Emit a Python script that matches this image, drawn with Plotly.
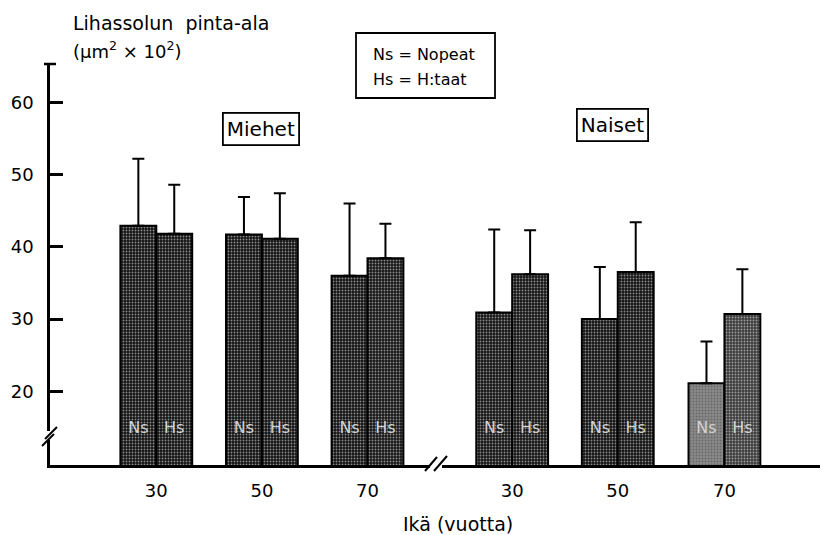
import plotly.graph_objects as go

# Muscle fibre cross-sectional area (um^2 x 10^2) by age group, men and women
age_labels = ["30", "50", "70", "30", "50", "70"]
group_pos = [0, 1, 2, 3.37, 4.37, 5.38]

ns_mean = [42.9, 41.7, 36.0, 30.9, 30.0, 21.1]   # Ns = fast fibres
ns_sd = [9.3, 5.2, 10.0, 11.5, 7.2, 5.8]
hs_mean = [41.8, 41.1, 38.4, 36.2, 36.5, 30.7]   # Hs = slow fibres
hs_sd = [6.8, 6.3, 4.8, 6.1, 6.9, 6.2]

ns_fill = ["#141414", "#141414", "#141414", "#161616", "#141414", "#8a8a8a"]
hs_fill = ["#141414", "#141414", "#181818", "#161616", "#141414", "#3c3c3c"]
ns_dots = ["#5a5a5a"] * 5 + ["#d8d8d8"]
hs_dots = ["#5a5a5a"] * 5 + ["#9a9a9a"]

Y_MIN, Y_MAX = 9.8, 65.3
BAR_W = 0.34
FONT = "DejaVu Sans"

# plot-area geometry (pixels) used to place decorations in paper coordinates
L, R, T, B = 50, 820, 64, 465
def fx(px):
    return (px - L) / (R - L)
def fy(py):
    return (B - py) / (B - T)

fig = go.Figure()

for mean, sd, fill, dots, off in [
    (ns_mean, ns_sd, ns_fill, ns_dots, -BAR_W),
    (hs_mean, hs_sd, hs_fill, hs_dots, 0.0),
]:
    fig.add_trace(go.Bar(
        x=group_pos, y=mean, width=BAR_W, offset=off,
        marker=dict(
            color=fill,
            line=dict(color="black", width=2),
            pattern=dict(shape=".", fgcolor=dots, bgcolor=fill, size=3, solidity=0.3),
        ),
        error_y=dict(type="data", array=sd, arrayminus=[0] * len(sd), symmetric=False,
                     color="black", thickness=2, width=6),
        showlegend=False,
    ))

# "Ns" / "Hs" labels inside the foot of each bar
fig.add_trace(go.Scatter(
    x=[p - BAR_W / 2 for p in group_pos] + [p + BAR_W / 2 for p in group_pos],
    y=[14.8] * 12,
    mode="text",
    text=["Ns"] * 6 + ["Hs"] * 6,
    textfont=dict(family=FONT, size=16, color="#d2d2d2"),
    showlegend=False, hoverinfo="skip",
))

fig.update_xaxes(
    range=[(L - 156.3) / 105.6, (R - 156.3) / 105.6],
    tickvals=group_pos, ticktext=age_labels,
    showline=True, linecolor="black", linewidth=2.5,
    ticks="", showgrid=False, zeroline=False,
    ticklabelstandoff=8,
    tickfont=dict(family=FONT, size=18, color="black"),
)
fig.update_yaxes(
    range=[Y_MIN, Y_MAX],
    tickvals=[20, 30, 40, 50, 60],
    showline=True, linecolor="black", linewidth=2.5,
    ticks="inside", ticklen=13, tickwidth=2.5, tickcolor="black",
    showgrid=False, zeroline=False,
    ticklabelstandoff=10,
    tickfont=dict(family=FONT, size=18, color="black"),
)

shapes = [
    # cap at the top of the y axis
    dict(type="line", xref="paper", yref="paper", x0=fx(44), x1=fx(56), y0=1, y1=1,
         line=dict(color="black", width=2.5)),
    # y-axis break
    dict(type="rect", xref="paper", yref="paper", x0=fx(46), x1=fx(55), y0=fy(440), y1=fy(431),
         fillcolor="white", line=dict(width=0)),
    dict(type="line", xref="paper", yref="paper", x0=fx(42), x1=fx(54), y0=fy(446), y1=fy(434),
         line=dict(color="black", width=2)),
    dict(type="line", xref="paper", yref="paper", x0=fx(45), x1=fx(57), y0=fy(439), y1=fy(427),
         line=dict(color="black", width=2)),
    # x-axis break between the two sexes
    dict(type="rect", xref="paper", yref="paper", x0=fx(430), x1=fx(442), y0=fy(468), y1=fy(461),
         fillcolor="white", line=dict(width=0)),
    dict(type="line", xref="paper", yref="paper", x0=fx(425), x1=fx(437), y0=fy(471), y1=fy(457),
         line=dict(color="black", width=2)),
    dict(type="line", xref="paper", yref="paper", x0=fx(434), x1=fx(447), y0=fy(471), y1=fy(456),
         line=dict(color="black", width=2)),
    # key box
    dict(type="rect", xref="paper", yref="paper", x0=fx(356), x1=fx(495), y0=fy(98), y1=fy(33),
         line=dict(color="black", width=1.8)),
]

annotations = [
    dict(text="Lihassolun  pinta-ala", x=fx(71), y=fy(23), xanchor="left", yanchor="middle",
         font=dict(size=19)),
    dict(text="(μm<sup>2</sup> × 10<sup>2</sup>)", x=fx(71), y=fy(50), xanchor="left",
         yanchor="middle", font=dict(size=18)),
    dict(text="Ns = Nopeat", x=fx(371), y=fy(55), xanchor="left", yanchor="middle",
         font=dict(size=16)),
    dict(text="Hs = H:taat", x=fx(371), y=fy(80), xanchor="left", yanchor="middle",
         font=dict(size=16)),
    dict(text="Miehet", x=fx(261), y=fy(128.5), xanchor="center", yanchor="middle",
         font=dict(size=20), bordercolor="black", borderwidth=1.8, borderpad=3, bgcolor="white"),
    dict(text="Naiset", x=fx(612), y=fy(124.5), xanchor="center", yanchor="middle",
         font=dict(size=20), bordercolor="black", borderwidth=1.8, borderpad=3, bgcolor="white"),
    dict(text="Ikä (vuotta)", x=fx(458), y=fy(524), xanchor="center", yanchor="middle",
         font=dict(size=19)),
]
for a in annotations:
    a.update(xref="paper", yref="paper", showarrow=False)
    a["font"].update(family=FONT, color="black")

fig.update_layout(
    width=823, height=535,
    margin=dict(l=L, r=823 - R, t=T, b=535 - B),
    plot_bgcolor="white", paper_bgcolor="white",
    barmode="overlay",
    shapes=shapes, annotations=annotations,
    font=dict(family=FONT, color="black"),
)

fig.write_html("out.html")
